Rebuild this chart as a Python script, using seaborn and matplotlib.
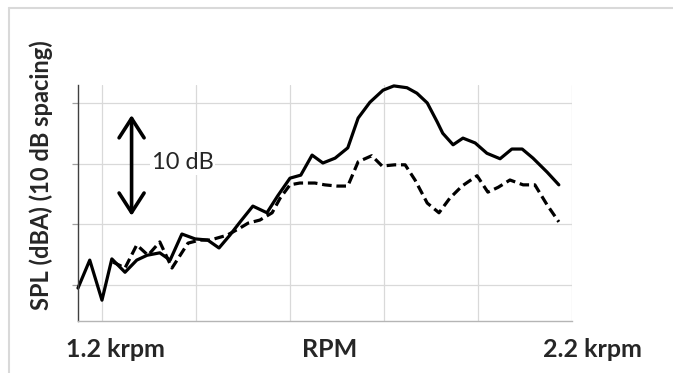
import numpy as np
import pandas as pd
import seaborn as sns
import matplotlib.pyplot as plt
from matplotlib.lines import Line2D

sns.set_style('white')
plt.rcParams['font.family'] = ['Lato', 'DejaVu Sans']

# solid curve (rpm, dB)
rpm_a = [1199, 1224, 1250, 1271, 1299, 1324, 1346, 1373, 1395, 1420, 1448, 1475,
         1499, 1522, 1544, 1571, 1601, 1624, 1650, 1673, 1697, 1720, 1746, 1773,
         1795, 1820, 1848, 1871, 1899, 1920, 1942, 1963, 1975, 1997, 2018, 2044,
         2069, 2097, 2122, 2144, 2167, 2197, 2222]
spl_a = [9.5, 14.1, 7.5, 14.3, 12.1, 14.1, 14.9, 15.3, 14.1, 18.4, 17.6, 17.4,
         16.1, 18.2, 20.4, 23.0, 21.9, 24.7, 27.6, 28.1, 31.4, 30.1, 30.9, 32.6,
         37.5, 40.1, 42.1, 42.8, 42.5, 41.6, 40.0, 36.9, 35.0, 33.1, 34.2, 33.4,
         31.7, 30.8, 32.4, 32.4, 30.9, 28.6, 26.5]

# dashed curve
rpm_b = [1273, 1299, 1324, 1348, 1373, 1399, 1433, 1458, 1480, 1516, 1544, 1561,
         1586, 1612, 1629, 1650, 1671, 1703, 1724, 1750, 1773, 1795, 1824, 1846,
         1873, 1895, 1916, 1942, 1967, 1990, 2016, 2048, 2071, 2093, 2118, 2146,
         2171, 2197, 2222]
spl_b = [13.8, 12.8, 16.6, 14.9, 17.1, 12.8, 16.9, 17.4, 17.4, 18.2, 19.4, 20.2,
         20.7, 21.9, 24.3, 26.5, 26.8, 26.8, 26.5, 26.3, 26.3, 30.3, 31.3, 29.6,
         29.8, 29.8, 27.3, 23.5, 21.9, 24.3, 26.3, 28.0, 25.3, 26.1, 27.3, 26.5,
         26.5, 23.2, 20.4]

df = pd.concat([
    pd.DataFrame({'rpm': rpm_a, 'spl': spl_a, 'case': 'a'}),
    pd.DataFrame({'rpm': rpm_b, 'spl': spl_b, 'case': 'b'}),
])

fig = plt.figure(figsize=(6.73, 3.73), dpi=100)
ax = fig.add_axes([78/673, 52/373, 494/673, 236/373])

sns.lineplot(data=df, x='rpm', y='spl', style='case', dashes={'a': '', 'b': (3, 1.5)},
             color='black', lw=2.3, estimator=None, sort=False, legend=False, ax=ax)
for ln in ax.lines:
    ln.set_clip_on(False)

ax.set_xlim(1199, 2250)
ax.set_ylim(4.07, 42.95)
ax.set_xticks(np.arange(1250, 2251, 200))
ax.set_yticks([10, 20, 30, 40])
ax.set_xticklabels([])
ax.set_yticklabels([])
ax.grid(True, color='#d9d9d9', lw=0.9)
ax.tick_params(axis='x', length=0)
ax.tick_params(axis='y', length=4, width=0.9, color='#a0a0a0', direction='out', left=True)
ax.set_xlabel('')
ax.set_ylabel('')
for s in ['top', 'right']:
    ax.spines[s].set_visible(False)
ax.spines['left'].set_color('#404040')
ax.spines['left'].set_linewidth(1)
ax.spines['bottom'].set_color('#b5b5b5')
ax.spines['bottom'].set_linewidth(1)

# 10 dB marker
ax.annotate('', xy=(1313, 38.0), xytext=(1313, 21.4),
            arrowprops=dict(arrowstyle='<->,head_length=0.7,head_width=0.45',
                            color='black', lw=2.6, mutation_scale=20,
                            shrinkA=0, shrinkB=0))
ax.text(1356, 30.1, '10 dB', fontsize=17, va='center', ha='left',
        bbox=dict(facecolor='white', edgecolor='none', pad=1))

# axis texts
fig.text(115.5/673, 16/373, '1.2 krpm', fontsize=18, fontweight='bold', ha='center', va='baseline')
fig.text(330/673, 16/373, 'RPM', fontsize=18, fontweight='bold', ha='center', va='baseline')
fig.text(592.5/673, 16/373, '2.2 krpm', fontsize=18, fontweight='bold', ha='center', va='baseline')
fig.text(41/673, 1 - 175/373, 'SPL (dBA) (10 dB spacing)', fontsize=17, fontweight='bold',
         rotation=90, ha='center', va='center')

# frame around the picture
fig.add_artist(Line2D([9/673, 1], [1 - 8/373, 1 - 8/373], color='#d9d9d9', lw=1.5))
fig.add_artist(Line2D([9/673, 9/673], [0, 1 - 8/373], color='#d9d9d9', lw=1.5))

fig.savefig('out.png', dpi=100)
